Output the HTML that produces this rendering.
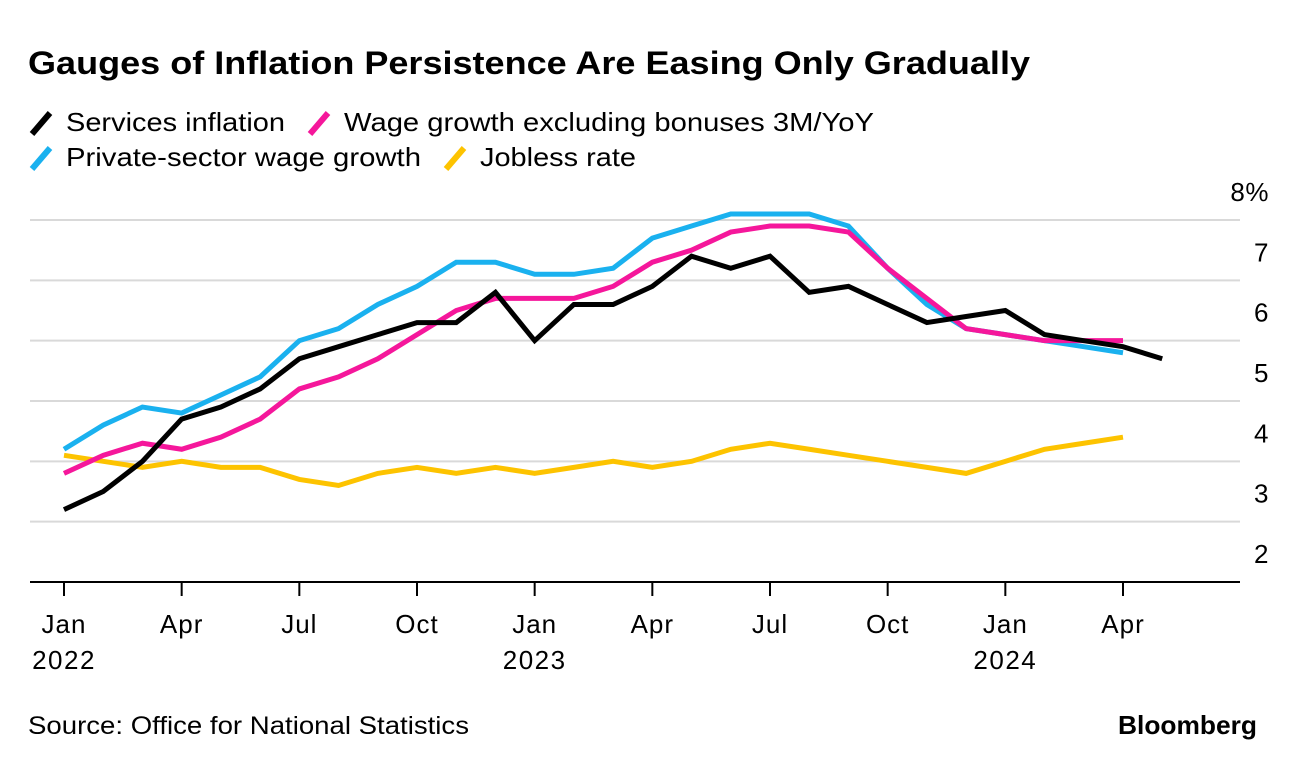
<!DOCTYPE html>
<html><head><meta charset="utf-8">
<style>
body{margin:0;background:#fff;font-family:"Liberation Sans",Arial,sans-serif;}
svg text{font-family:"Liberation Sans",Arial,sans-serif;}
</style></head>
<body>
<svg id="chart" width="1296" height="768" xmlns="http://www.w3.org/2000/svg">
<text x="28" y="74" font-size="32" font-weight="bold" fill="#000" textLength="1002" lengthAdjust="spacingAndGlyphs">Gauges of Inflation Persistence Are Easing Only Gradually</text>
<g font-size="26" fill="#000">
  <g><line x1="32" y1="134" x2="50" y2="113" stroke="#000" stroke-width="6"/><text x="66" y="131" textLength="219" lengthAdjust="spacingAndGlyphs">Services inflation</text></g>
  <g><line x1="310" y1="134" x2="328" y2="113" stroke="#f5179b" stroke-width="6"/><text x="344" y="131" textLength="530" lengthAdjust="spacingAndGlyphs">Wage growth excluding bonuses 3M/YoY</text></g>
  <g><line x1="32" y1="169" x2="50" y2="148" stroke="#1ab1ef" stroke-width="6"/><text x="66" y="166" textLength="355" lengthAdjust="spacingAndGlyphs">Private-sector wage growth</text></g>
  <g><line x1="446" y1="169" x2="464" y2="148" stroke="#fdc300" stroke-width="6"/><text x="480" y="166" textLength="156" lengthAdjust="spacingAndGlyphs">Jobless rate</text></g>
</g>
<g id="grid"></g>
<g id="series"></g>
<g id="xaxis"></g>
<text x="28" y="734" font-size="25" fill="#000" textLength="441" lengthAdjust="spacingAndGlyphs">Source: Office for National Statistics</text>
<text x="1118" y="734" font-size="26" font-weight="bold" fill="#000" textLength="139" lengthAdjust="spacingAndGlyphs">Bloomberg</text>
</svg>
<script>
const yTicks=[2,3,4,5,6,7,8];
const yTickLabels=["2","3","4","5","6","7","8%"];
const xTickMonths=[0,3,6,9,12,15,18,21,24,27];
const xTickLabels=["Jan","Apr","Jul","Oct","Jan","Apr","Jul","Oct","Jan","Apr"];
const xYearLabels=["2022","","","","2023","","","","2024",""];
const services=[3.2,3.5,4.0,4.7,4.9,5.2,5.7,5.9,6.1,6.3,6.3,6.8,6.0,6.6,6.6,6.9,7.4,7.2,7.4,6.8,6.9,6.6,6.3,6.4,6.5,6.1,6.0,5.9,5.7];
const wage=[3.8,4.1,4.3,4.2,4.4,4.7,5.2,5.4,5.7,6.1,6.5,6.7,6.7,6.7,6.9,7.3,7.5,7.8,7.9,7.9,7.8,7.2,6.7,6.2,6.1,6.0,6.0,6.0];
const privateWage=[4.2,4.6,4.9,4.8,5.1,5.4,6.0,6.2,6.6,6.9,7.3,7.3,7.1,7.1,7.2,7.7,7.9,8.1,8.1,8.1,7.9,7.2,6.6,6.2,6.1,6.0,5.9,5.8];
const jobless=[4.1,4.0,3.9,4.0,3.9,3.9,3.7,3.6,3.8,3.9,3.8,3.9,3.8,3.9,4.0,3.9,4.0,4.2,4.3,4.2,4.1,4.0,3.9,3.8,4.0,4.2,4.3,4.4];

const NS="http://www.w3.org/2000/svg";
const x=m=>64+m*(1123-64)/27;
const y=v=>582-(v-2)*(582-220)/6;
function mk(t,a,p){const e=document.createElementNS(NS,t);for(const k in a)e.setAttribute(k,a[k]);p.appendChild(e);return e;}
const grid=document.getElementById('grid');
yTicks.forEach((v,i)=>{
  if(v>2){const l=mk('line',{x1:30,x2:1240,y1:y(v),y2:y(v),stroke:'#d9d9d9','stroke-width':2},grid);
  
  }
  const t=mk('text',{x:1269,y:y(v)-19,'font-size':26,'text-anchor':'end',fill:'#000','letter-spacing':'0.5'},grid);
  
  
  t.textContent=yTickLabels[i];
});
const xa=document.getElementById('xaxis');
const base=mk('line',{x1:30,x2:1240,y1:582,y2:582,stroke:'#000','stroke-width':2},xa);


xTickMonths.forEach((m,i)=>{
  const tk=mk('line',{x1:x(m),x2:x(m),y1:582,y2:596,stroke:'#000','stroke-width':2},xa);
  
  
  const t=mk('text',{x:x(m),y:633,'font-size':26,'text-anchor':'middle',fill:'#000','letter-spacing':'1'},xa);
  
  
  t.textContent=xTickLabels[i];
  if(xYearLabels[i]){const yt=mk('text',{x:x(m),y:669,'font-size':26,'text-anchor':'middle',fill:'#000','letter-spacing':'1.5'},xa);
  
  
  yt.textContent=xYearLabels[i];}
});
const sg=document.getElementById('series');
[[jobless,'#fdc300','jobless-rate-line'],[privateWage,'#1ab1ef','private-wage-line'],[wage,'#f5179b','wage-growth-line'],[services,'#000','services-inflation-line']].forEach(([d,c,n])=>{
  const p=mk('polyline',{points:d.map((v,i)=>x(i)+','+y(v)).join(' '),fill:'none',stroke:c,'stroke-width':5,'stroke-linejoin':'miter'},sg);
  
  
});
</script>
</body></html>
